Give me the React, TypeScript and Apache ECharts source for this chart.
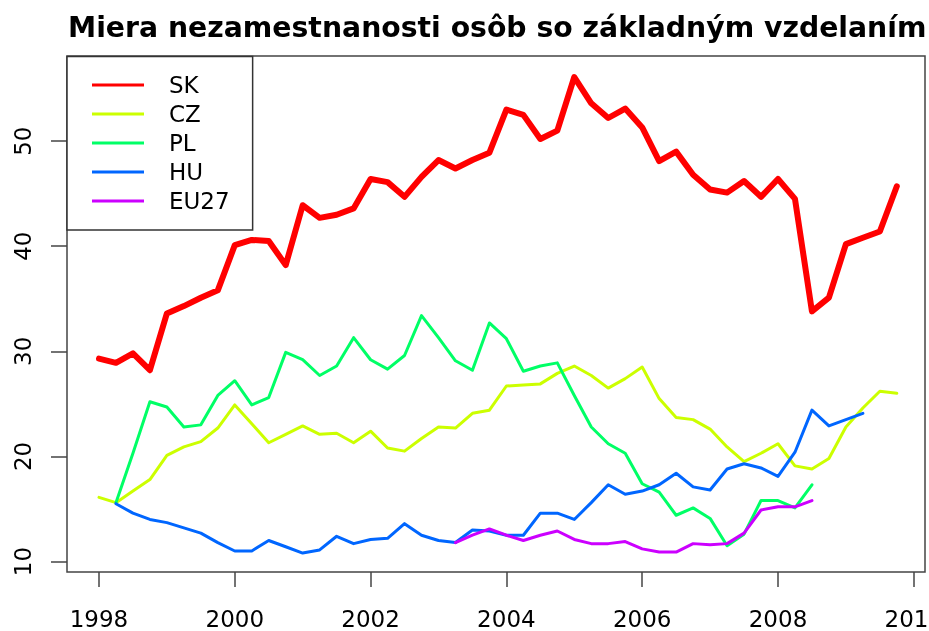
import React, { useEffect, useRef } from "react";
import * as echarts from "echarts";

const chartTitle = "Miera nezamestnanosti osôb so základným vzdelaním";

const quarters = [
  1998, 1998.25, 1998.5, 1998.75, 1999, 1999.25, 1999.5, 1999.75,
  2000, 2000.25, 2000.5, 2000.75, 2001, 2001.25, 2001.5, 2001.75,
  2002, 2002.25, 2002.5, 2002.75, 2003, 2003.25, 2003.5, 2003.75,
  2004, 2004.25, 2004.5, 2004.75, 2005, 2005.25, 2005.5, 2005.75,
  2006, 2006.25, 2006.5, 2006.75, 2007, 2007.25, 2007.5, 2007.75,
  2008, 2008.25, 2008.5, 2008.75, 2009, 2009.25, 2009.5, 2009.75,
];

const seriesNames = ["SK", "CZ", "PL", "HU", "EU27"];
const seriesColors = ["#FF0000", "#CCFF00", "#00FF66", "#0066FF", "#CC00FF"];

const sk = [
  29.3, 28.9, 29.8, 28.2, 33.6, 34.3, 35.1, 35.8, 40.1, 40.6, 40.5, 38.2,
  43.9, 42.7, 43.0, 43.6, 46.4, 46.1, 44.7, 46.6, 48.2, 47.4, 48.2, 48.9,
  53.0, 52.5, 50.2, 51.0, 56.1, 53.6, 52.2, 53.1, 51.3, 48.1, 49.0, 46.8,
  45.4, 45.1, 46.2, 44.7, 46.4, 44.5, 33.8, 35.1, 40.2, 40.8, 41.4, 45.7,
];
const cz = [
  16.1, 15.6, 16.7, 17.8, 20.1, 20.9, 21.4, 22.7, 24.9, 23.1, 21.3, 22.1,
  22.9, 22.1, 22.2, 21.3, 22.4, 20.8, 20.5, 21.7, 22.8, 22.7, 24.1, 24.4,
  26.7, 26.8, 26.9, 27.9, 28.6, 27.7, 26.5, 27.4, 28.5, 25.5, 23.7, 23.5,
  22.6, 20.9, 19.5, 20.3, 21.2, 19.1, 18.8, 19.8, 22.8, 24.6, 26.2, 26.0,
];
const pl = [
  null, 15.6, 20.3, 25.2, 24.7, 22.8, 23.0, 25.8, 27.2, 24.9, 25.6, 29.9,
  29.2, 27.7, 28.6, 31.3, 29.2, 28.3, 29.6, 33.4, 31.3, 29.1, 28.2, 32.7,
  31.2, 28.1, 28.6, 28.9, 25.8, 22.8, 21.2, 20.3, 17.4, 16.6, 14.4, 15.1,
  14.1, 11.5, 12.6, 15.8, 15.8, 15.1, 17.3, null, null, null, null, null,
];
const hu = [
  null, 15.5, 14.6, 14.0, 13.7, 13.2, 12.7, 11.8, 11.0, 11.0, 12.0, 11.4,
  10.8, 11.1, 12.4, 11.7, 12.1, 12.2, 13.6, 12.5, 12.0, 11.8, 13.0, 12.9,
  12.5, 12.5, 14.6, 14.6, 14.0, 15.6, 17.3, 16.4, 16.7, 17.3, 18.4, 17.1,
  16.8, 18.8, 19.3, 18.9, 18.1, 20.4, 24.4, 22.9, 23.5, 24.1, null, null,
];
const eu27 = [
  null, null, null, null, null, null, null, null, null, null, null, null,
  null, null, null, null, null, null, null, null, null, 11.8, 12.5, 13.1,
  12.5, 12.0, 12.5, 12.9, 12.1, 11.7, 11.7, 11.9, 11.2, 10.9, 10.9, 11.7,
  11.6, 11.7, 12.7, 14.9, 15.2, 15.2, 15.8, null, null, null, null, null,
];

const xTicks = [1998, 2000, 2002, 2004, 2006, 2008, 2010];
const yTicks = [10, 20, 30, 40, 50];

const FONT = "DejaVu Sans";

export default function App() {
  const ref = useRef<HTMLDivElement>(null);

  useEffect(() => {
    document.body.style.margin = "0";
    const chart = echarts.init(ref.current as HTMLDivElement, null, { renderer: "svg" });
    const values = [sk, cz, pl, hu, eu27];
    chart.setOption({
      animation: false,
      title: {
        text: chartTitle,
        left: 68,
        top: 13.5,
        padding: 0,
        textStyle: { fontFamily: FONT, fontWeight: "bold", fontSize: 28.3, color: "#000" },
      },
      legend: {
        orient: "vertical",
        left: 67,
        top: 56.5,
        icon: "rect",
        itemWidth: 52,
        itemHeight: 3,
        itemGap: 6,
        padding: [17, 23, 17.5, 25],
        borderColor: "#333",
        borderWidth: 1.5,
        backgroundColor: "#fff",
        selectedMode: false,
        data: seriesNames,
        textStyle: { fontFamily: FONT, fontSize: 23, color: "#000", padding: [0, 0, 0, 20] },
      },
      grid: {
        left: 67,
        top: 56,
        right: 4,
        bottom: 59,
        show: true,
        borderColor: "#444",
        borderWidth: 1.5,
        backgroundColor: "transparent",
        containLabel: false,
        outerBoundsMode: "none",
      },
      xAxis: {
        type: "value",
        min: 1997.529,
        max: 2010.165,
        axisLine: { show: false },
        splitLine: { show: false },
        axisTick: { show: true, length: 15, lineStyle: { color: "#444", width: 1.5 }, customValues: xTicks },
        axisLabel: {
          customValues: xTicks,
          margin: 35,
          fontFamily: FONT,
          fontSize: 23,
          color: "#000",
          formatter: (v: number) => String(v),
        },
      },
      yAxis: {
        type: "value",
        min: 9.0,
        max: 58.1,
        axisLine: { show: false },
        splitLine: { show: false },
        axisTick: { show: true, length: 16, lineStyle: { color: "#444", width: 1.5 }, customValues: yTicks },
        axisLabel: {
          customValues: yTicks,
          rotate: 90,
          margin: 33,
          fontFamily: FONT,
          fontSize: 23,
          color: "#000",
          formatter: (v: number) => String(v),
        },
      },
      series: values.map((v, i) => ({
        type: "line",
        name: seriesNames[i],
        data: quarters.map((q, j) => [q, v[j]]),
        symbol: "none",
        silent: true,
        emphasis: { disabled: true },
        itemStyle: { color: seriesColors[i] },
        lineStyle: { color: seriesColors[i], width: i === 0 ? 6 : 3, cap: "round", join: "round" },
      })),
    });
    return () => chart.dispose();
  }, []);

  return <div ref={ref} style={{ position: "fixed", left: 0, top: 0, width: 929, height: 631 }} />;
}
